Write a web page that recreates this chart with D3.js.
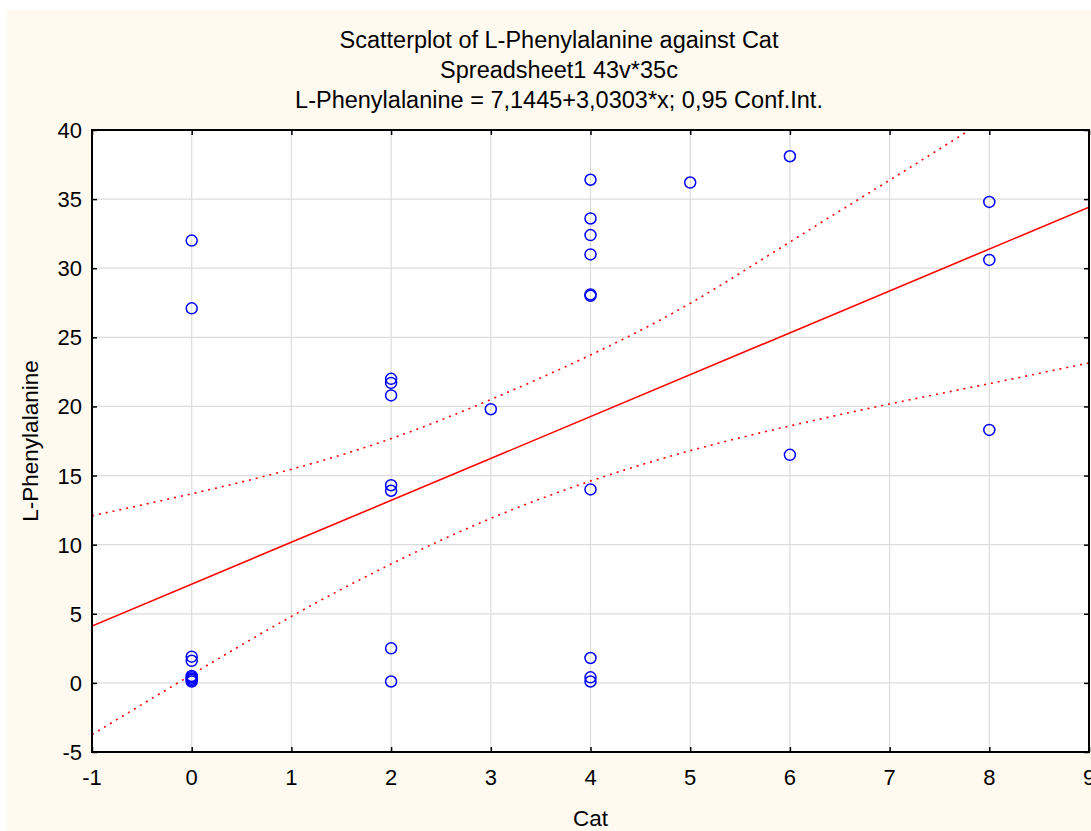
<!DOCTYPE html>
<html>
<head>
<meta charset="utf-8">
<script src="https://cdn.jsdelivr.net/npm/d3@7"></script>
<style>
body { margin:0; background:#fff; }
text { font-family:"Liberation Sans", Arial, sans-serif; fill:#000; }
</style>
</head>
<body>
<svg id="chart" width="1091" height="831"></svg>
<script>
var titleLines = ["Scatterplot of L-Phenylalanine against Cat",
	"Spreadsheet1 43v*35c",
	"L-Phenylalanine = 7,1445+3,0303*x; 0,95 Conf.Int."];
var xLabel = "Cat";
var yLabel = "L-Phenylalanine";

var catValues = [0,0,0,0,0,0,0,0,0,
	2,2,2,2,2,2,2,
	3,
	4,4,4,4,4,4,4,4,4,4,
	5,
	6,6,
	8,8,8];
var pheValues = [32.0,27.1,1.9,1.6,0.5,0.4,0.3,0.2,0.1,
	22.0,21.7,20.8,14.3,13.9,2.5,0.1,
	19.8,
	36.4,33.6,32.4,31.0,28.1,28.0,14.0,1.8,0.4,0.1,
	36.2,
	38.1,16.5,
	34.8,30.6,18.3];

var xTicks = [-1,0,1,2,3,4,5,6,7,8,9];
var yTicks = [-5,0,5,10,15,20,25,30,35,40];

// fitted line 7,1445+3,0303*x at the ends of the axis
var regX = [-1, 9];
var regY = [4.1142, 34.4172];
// 0,95 confidence band
var ciX     = [-1, 0, 1, 2, 3, 4, 5, 6, 7, 8, 9];
var ciUpper = [12.09, 13.68, 15.46, 17.67, 20.5, 23.72, 27.46, 31.9, 36.37, 40.9, 45.5];
var ciLower = [-3.74, 0.6, 4.81, 8.6, 11.9, 14.6, 16.8, 18.59, 20.18, 21.65, 23.15];

var svg = d3.select("#chart");
var L = 92, R = 1089, T = 130, B = 752;

svg.append("rect").attr("x",7).attr("y",10).attr("width",1084).attr("height",821).attr("fill","#fffaf0");
svg.append("rect").attr("x",L).attr("y",T).attr("width",R-L).attr("height",B-T).attr("fill","#fff");

var x = d3.scaleLinear().domain([-1,9]).range([L,R]);
var y = d3.scaleLinear().domain([-5,40]).range([B,T]);

// grid
svg.append("g").selectAll("line").data(xTicks.slice(1,-1)).enter().append("line")
	.attr("x1",function(d){return x(d);}).attr("x2",function(d){return x(d);})
	.attr("y1",T).attr("y2",B).attr("stroke","#dcdcdc").attr("stroke-width",1.2);
svg.append("g").selectAll("line").data(yTicks.slice(1,-1)).enter().append("line")
	.attr("y1",function(d){return y(d);}).attr("y2",function(d){return y(d);})
	.attr("x1",L).attr("x2",R).attr("stroke","#dcdcdc").attr("stroke-width",1.2);

var clip = svg.append("clipPath").attr("id","plotclip");
clip.append("rect").attr("x",L).attr("y",T).attr("width",R-L).attr("height",B-T);
var plot = svg.append("g").attr("clip-path","url(#plotclip)");

var line = d3.line().x(function(d){return x(d[0]);}).y(function(d){return y(d[1]);});
var ciLine = d3.line().curve(d3.curveNatural).x(function(d){return x(d[0]);}).y(function(d){return y(d[1]);});

plot.append("path").datum(d3.zip(ciX,ciUpper)).attr("d",ciLine)
	.attr("fill","none").attr("stroke","#ff0000").attr("stroke-width",1.6).attr("stroke-dasharray","2,5");
plot.append("path").datum(d3.zip(ciX,ciLower)).attr("d",ciLine)
	.attr("fill","none").attr("stroke","#ff0000").attr("stroke-width",1.6).attr("stroke-dasharray","2,5");
plot.append("path").datum(d3.zip(regX,regY)).attr("d",line)
	.attr("fill","none").attr("stroke","#ff0000").attr("stroke-width",1.6);

// points
svg.append("g").selectAll("circle").data(d3.zip(catValues,pheValues)).enter().append("circle")
	.attr("cx",function(d){return x(d[0]);}).attr("cy",function(d){return y(d[1]);})
	.attr("r",5.5).attr("fill","none").attr("stroke","#0000ff").attr("stroke-width",1.5);

// axes, ticks point inward like the original
function ticksOnly(axis, vals, size) {
	return axis.tickValues(vals).tickSize(size).tickFormat("");
}
var xMinor = d3.range(-1,9.001,0.25), yMinor = d3.range(-5,40.001,1);

var gB = svg.append("g").attr("transform","translate(0,"+B+")");
gB.call(ticksOnly(d3.axisBottom(x), xMinor, -3));
gB.call(ticksOnly(d3.axisBottom(x), xTicks, -5));
var gT = svg.append("g").attr("transform","translate(0,"+T+")");
gT.call(ticksOnly(d3.axisTop(x), xMinor, -3));
gT.call(ticksOnly(d3.axisTop(x), xTicks, -5));
var gL = svg.append("g").attr("transform","translate("+L+",0)");
gL.call(ticksOnly(d3.axisLeft(y), yMinor, -3));
gL.call(ticksOnly(d3.axisLeft(y), yTicks, -5));
var gR = svg.append("g").attr("transform","translate("+R+",0)");
gR.call(ticksOnly(d3.axisRight(y), yMinor, -3));
gR.call(ticksOnly(d3.axisRight(y), yTicks, -5));
svg.selectAll(".domain").remove();
svg.selectAll(".tick line").attr("stroke","#000").attr("stroke-width",1.5);

svg.append("rect").attr("x",L).attr("y",T).attr("width",R-L).attr("height",B-T)
	.attr("fill","none").attr("stroke","#000").attr("stroke-width",2);

// tick labels
svg.append("g").selectAll("text").data(xTicks).enter().append("text")
	.attr("x",function(d){return x(d);}).attr("y",785)
	.attr("text-anchor","middle").style("font-size","22px").text(function(d){return d;});
svg.append("g").selectAll("text").data(yTicks).enter().append("text")
	.attr("x",82).attr("y",function(d){return y(d)+8;})
	.attr("text-anchor","end").style("font-size","22px").text(function(d){return d;});

// titles, centred on the whole frame
svg.append("g").selectAll("text").data(titleLines).enter().append("text")
	.attr("x",559).attr("y",function(d,i){return 48+i*30;})
	.attr("text-anchor","middle").style("font-size","23.5px").text(function(d){return d;});
svg.append("text").attr("x",(L+R)/2).attr("y",826).attr("text-anchor","middle")
	.style("font-size","22.5px").text(xLabel);
svg.append("text").attr("transform","translate(38,"+((T+B)/2)+") rotate(-90)")
	.attr("text-anchor","middle").style("font-size","22.5px").text(yLabel);
</script>
</body>
</html>
